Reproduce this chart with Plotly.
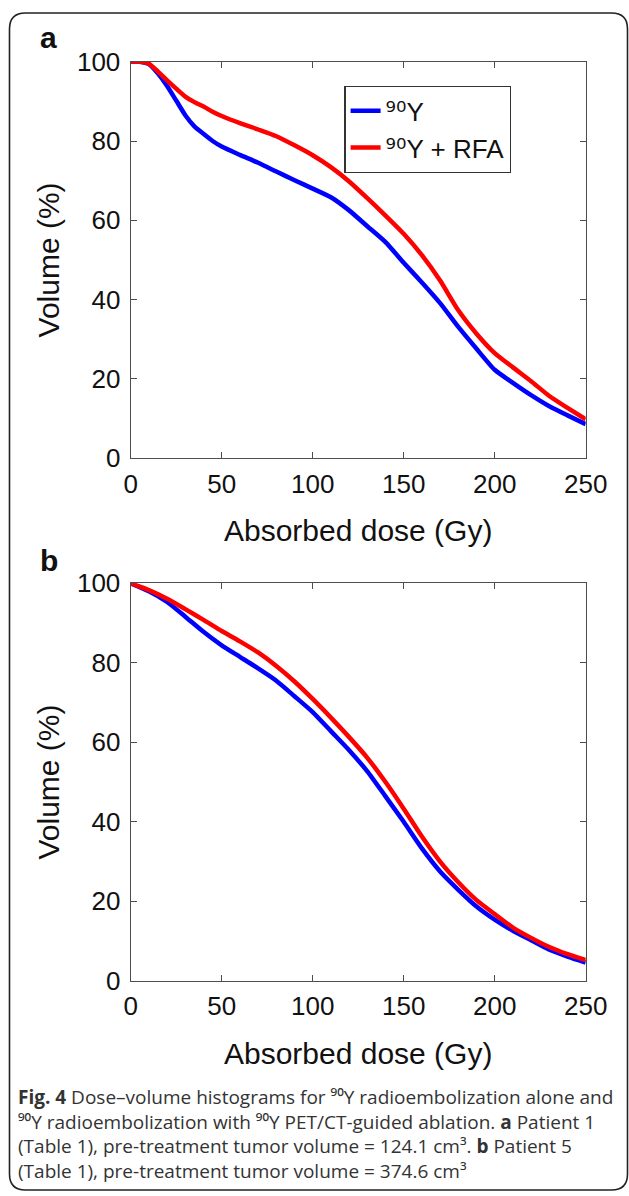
import plotly.graph_objects as go

W, H = 629, 1196

# ---- data ----
dose_a = [0, 5, 10, 15, 20, 25, 30, 35, 40, 45, 50, 60, 70, 80, 90, 100, 110, 120,
          130, 140, 150, 160, 170, 180, 190, 200, 210, 220, 230, 240, 250]
y90_a = [100, 100, 99.4, 97.0, 93.9, 90.2, 86.5, 83.7, 81.8, 80.0, 78.6, 76.5, 74.5,
         72.3, 70.1, 68.0, 65.8, 62.5, 58.5, 54.5, 49.3, 44.3, 39.1, 33.1, 27.6, 22.3,
         19.0, 15.9, 13.1, 10.8, 8.6]
y90rfa_a = [100, 100, 99.5, 97.5, 95.3, 93.2, 91.2, 89.8, 88.7, 87.4, 86.3, 84.5, 82.9,
            81.2, 78.9, 76.4, 73.4, 69.8, 65.6, 61.2, 56.6, 51.2, 44.8, 37.3, 31.4, 26.5,
            22.9, 19.4, 15.7, 12.7, 9.8]

dose_b = [0, 10, 20, 30, 40, 50, 60, 70, 80, 90, 100, 110, 120, 130, 140, 150, 160,
          170, 180, 190, 200, 210, 220, 230, 240, 250]
y90_b = [100, 98.0, 95.3, 91.6, 87.8, 84.4, 81.5, 78.6, 75.5, 71.6, 67.6, 62.8, 58.0,
         52.7, 46.4, 40.0, 33.3, 27.5, 22.9, 18.7, 15.4, 12.6, 10.2, 7.8, 6.1, 4.6]
y90rfa_b = [100, 98.3, 96.1, 93.5, 90.8, 88.0, 85.4, 82.6, 79.2, 75.3, 70.9, 66.2, 61.3,
            56.1, 50.0, 43.3, 36.3, 30.0, 24.8, 20.3, 16.8, 13.4, 10.8, 8.5, 6.7, 5.2]

x_ticks = [0, 50, 100, 150, 200, 250]
y_ticks = [0, 20, 40, 60, 80, 100]
SUP90 = "<span style='font-family:DejaVu Sans'>⁹⁰</span>"
series_names = [SUP90 + "Y", SUP90 + "Y + RFA"]
series_colors = ["#0000FF", "#FF0000"]

caption_lines = [
    "<b>Fig. 4</b> Dose–volume histograms for ⁹⁰Y radioembolization alone and",
    "⁹⁰Y radioembolization with ⁹⁰Y PET/CT-guided ablation. <b>a</b> Patient 1",
    "(Table 1), pre-treatment tumor volume = 124.1 cm³. <b>b</b> Patient 5",
    "(Table 1), pre-treatment tumor volume = 374.6 cm³",
]


def X(px):
    return px / W


def Y(py):
    return 1 - py / H


fig = go.Figure()
for i, (xs, ys) in enumerate([(dose_a, y90_a), (dose_a, y90rfa_a)]):
    fig.add_trace(go.Scatter(x=xs, y=ys, mode="lines", name=series_names[i],
                             line=dict(color=series_colors[i], width=4.5, shape="spline", smoothing=0.6),
                             cliponaxis=False, xaxis="x", yaxis="y", showlegend=True))
for i, (xs, ys) in enumerate([(dose_b, y90_b), (dose_b, y90rfa_b)]):
    fig.add_trace(go.Scatter(x=xs, y=ys, mode="lines", name=series_names[i],
                             line=dict(color=series_colors[i], width=4.5, shape="spline", smoothing=0.6),
                             cliponaxis=False, xaxis="x2", yaxis="y2", showlegend=False))

FONT = "Liberation Sans, Arial, sans-serif"
axcol = "#4d4d4d"


def xax(domain, anchor):
    return dict(domain=domain, anchor=anchor, range=[0, 250], tickvals=x_ticks,
                showline=True, mirror="ticks", ticks="inside", ticklen=6,
                linecolor=axcol, tickcolor=axcol, linewidth=1.3, tickwidth=1.3,
                showgrid=False, zeroline=False, automargin=False, ticklabelstandoff=2,
                tickfont=dict(family=FONT, size=26, color="#111"),
                title=dict(text="Absorbed dose (Gy)", font=dict(family=FONT, size=30, color="#111"),
                           standoff=22))


def yax(domain, anchor):
    return dict(domain=domain, anchor=anchor, range=[0, 100], tickvals=y_ticks,
                showline=True, mirror="ticks", ticks="inside", ticklen=6,
                linecolor=axcol, tickcolor=axcol, linewidth=1.3, tickwidth=1.3,
                showgrid=False, zeroline=False, automargin=False, ticklabelstandoff=4,
                tickfont=dict(family=FONT, size=26, color="#111"),
                title=dict(text="Volume (%)", font=dict(family=FONT, size=30, color="#111"),
                           standoff=8))


top_y = [Y(458.2), Y(61.7)]
bot_y = [Y(980.8), Y(583.3)]
xdom = [X(130.7), X(585.7)]

# rounded frame
l, r, t, b = X(9.5), X(627.5), Y(13), Y(1190)
rx, ry = 16 / W, 16 / H
frame = (f"M{l},{t - ry} L{l},{b + ry} Q{l},{b} {l + rx},{b} L{r - rx},{b} Q{r},{b} {r},{b + ry} "
         f"L{r},{t - ry} Q{r},{t} {r - rx},{t} L{l + rx},{t} Q{l},{t} {l},{t - ry} Z")

annotations = [
    dict(text="<b>a</b>", x=X(38), y=Y(37), xref="paper", yref="paper", xanchor="left",
         yanchor="middle", showarrow=False, font=dict(family=FONT, size=30, color="#111")),
    dict(text="<b>b</b>", x=X(38), y=Y(560), xref="paper", yref="paper", xanchor="left",
         yanchor="middle", showarrow=False, font=dict(family=FONT, size=30, color="#111")),
    dict(text="<br>".join(caption_lines), x=X(16), y=Y(1134), xref="paper", yref="paper",
         xanchor="left", yanchor="middle", showarrow=False, align="left",
         font=dict(family="Open Sans, sans-serif", size=19, color="#333")),
]

fig.update_layout(
    width=W, height=H, margin=dict(l=0, r=0, t=0, b=0, autoexpand=False),
    paper_bgcolor="white", plot_bgcolor="white",
    xaxis=xax(xdom, "y"), yaxis=yax(top_y, "x"),
    xaxis2=xax(xdom, "y2"), yaxis2=yax(bot_y, "x2"),
    legend=dict(x=X(344.3), y=Y(86), xanchor="left", yanchor="top",
                bgcolor="white", bordercolor="#333", borderwidth=1.3,
                font=dict(family=FONT, size=26, color="#111"), tracegroupgap=0),
    shapes=[dict(type="path", path=frame, xref="paper", yref="paper",
                 line=dict(color="#222", width=1.6), layer="above")],
    annotations=annotations,
)

fig.write_html("out.html", config={"displayModeBar": False},
               post_script="document.body.style.margin='0';document.body.style.overflow='hidden';")
